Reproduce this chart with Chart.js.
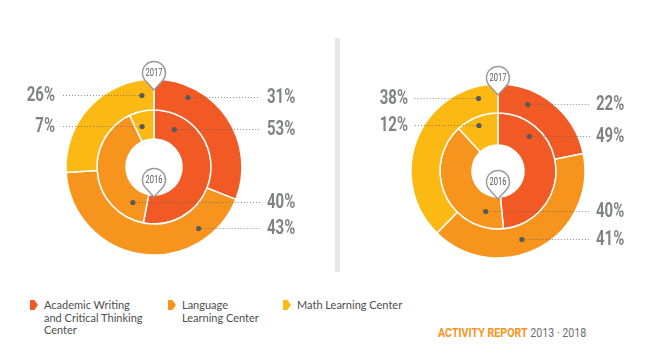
<!DOCTYPE html>
<html>
<head>
<meta charset="utf-8">
<script src="https://cdn.jsdelivr.net/npm/chart.js@4"></script>
<style>
  html, body { margin: 0; padding: 0; background: #fff; }
  #page { position: relative; width: 650px; height: 360px; overflow: hidden; font-family: Lato, "Open Sans", sans-serif; }
  canvas { position: absolute; top: 0; }
  #left_chart { left: 0; }
  #right_chart { left: 340px; }
  .divider { position: absolute; left: 335px; top: 38px; width: 5px; height: 234px; background: #e6e7e8; }
  .legend-item { position: absolute; top: 299px; font-size: 11px; line-height: 12.6px; color: #4d4e50; white-space: nowrap; }
  .swatch { position: absolute; left: -14px; top: 1px; width: 8px; height: 10px; clip-path: polygon(0 0, 55% 0, 100% 50%, 55% 100%, 0 100%); }
  .footer { position: absolute; left: 438px; top: 325px; font-family: Roboto, sans-serif; font-size: 13px; white-space: nowrap; transform: scaleX(0.82); transform-origin: left top; }
  .footer b { color: #f7941d; font-weight: 700; }
  .footer span { color: #6d6e71; }
</style>
</head>
<body>
<div id="page">
  <canvas id="left_chart" width="336" height="280"></canvas>
  <div class="divider"></div>
  <canvas id="right_chart" width="310" height="280"></canvas>
  <div id="legend"></div>
  <div class="footer"><b>ACTIVITY REPORT</b> <span>2013 · 2018</span></div>
</div>
<script>
const categories = [
  ["Academic Writing", "and Critical Thinking", "Center"],
  ["Language", "Learning Center"],
  ["Math Learning Center"],
]
const ringYears = ["2017", "2016"]
const leftOuter = [31, 43, 26]
const leftInner = [53, 40, 7]
const rightOuter = [22, 41, 38]
const rightInner = [49, 40, 12]
const colors = ["#f15a24", "#f7941d", "#fdb913"]

// legend (html text)
const legendX = [44, 182, 297]
const legend = document.getElementById("legend")
categories.forEach((lines, i) => {
  const item = document.createElement("div")
  item.className = "legend-item"
  item.style.left = legendX[i] + "px"
  item.innerHTML = '<div class="swatch" style="background:' + colors[i] + '"></div>' + lines.join("<br>")
  legend.appendChild(item)
})

function pin(ctx, x, tipY, text) {
  const r = 11.5
  const cy = tipY - 17
  const t = Math.acos(r / 17)
  ctx.beginPath()
  ctx.moveTo(x, tipY)
  ctx.arc(x, cy, r, Math.PI / 2 + t, Math.PI / 2 - t, false)
  ctx.closePath()
  ctx.fillStyle = "#ffffff"
  ctx.fill()
  ctx.strokeStyle = "#9b9b9b"
  ctx.lineWidth = 1.5
  ctx.stroke()
  ctx.save()
  ctx.translate(x, cy + 0.5)
  ctx.scale(0.75, 1)
  ctx.font = "10px Roboto"
  ctx.textAlign = "center"
  ctx.textBaseline = "middle"
  ctx.fillStyle = "#58595b"
  ctx.fillText(text, 0, 0)
  ctx.restore()
}

const leaderPlugin = {
  id: "leaders",
  afterDraw(chart, args, opts) {
    const ctx = chart.ctx
    const outerArc = chart.getDatasetMeta(0).data[0]
    const innerArc = chart.getDatasetMeta(1).data[0]
    const cx = outerArc.x
    const cy = outerArc.y
    ctx.save()
    opts.items.forEach((item) => {
      const arc = chart.getDatasetMeta(item.ds).data[item.i]
      const r = arc.innerRadius + (arc.outerRadius - arc.innerRadius) * item.depth
      const a = (item.angle * Math.PI) / 180
      const x = cx + r * Math.sin(a)
      const y = Math.round(cy - r * Math.cos(a))
      const col = opts[item.side]

      ctx.strokeStyle = "rgba(100,100,100,0.75)"
      ctx.lineWidth = 1
      ctx.setLineDash([1, 2])
      ctx.beginPath()
      ctx.moveTo(x, y + 0.5)
      ctx.lineTo(cx + col.line, y + 0.5)
      ctx.stroke()
      ctx.setLineDash([])

      ctx.fillStyle = "#58595b"
      ctx.beginPath()
      ctx.arc(x, y + 0.5, 2.6, 0, Math.PI * 2)
      ctx.fill()

      const value = chart.data.datasets[item.ds].data[item.i]
      ctx.save()
      ctx.translate(cx + col.text, y + 1)
      ctx.scale(0.75, 1)
      ctx.font = "bold 20px Roboto"
      ctx.textAlign = item.side === "left" ? "right" : "left"
      ctx.textBaseline = "middle"
      ctx.fillStyle = "#808285"
      ctx.fillText(value + "%", 0, 0)
      ctx.restore()
    })
    pin(ctx, cx, cy - outerArc.outerRadius + 11, chart.data.datasets[0].label)
    pin(ctx, cx, cy + innerArc.innerRadius + 2, chart.data.datasets[1].label)
    ctx.restore()
  },
}

function donut(id, outer, inner, opts) {
  new Chart(document.getElementById(id), {
    type: "doughnut",
    plugins: [leaderPlugin],
    data: {
      labels: categories.map((c) => c.join(" ")),
      datasets: [
        {
          label: ringYears[0],
          data: outer,
          backgroundColor: colors,
          borderColor: "#ffffff",
          borderWidth: 1.5,
          weight: opts.weights[0],
        },
        {
          label: ringYears[1],
          data: inner,
          backgroundColor: colors,
          borderColor: "#ffffff",
          borderWidth: 1.5,
          weight: opts.weights[1],
        },
      ],
    },
    options: {
      responsive: false,
      animation: false,
      events: [],
      devicePixelRatio: 1,
      radius: opts.radius,
      cutout: opts.cutout,
      layout: { padding: opts.padding },
      plugins: {
        legend: { display: false },
        tooltip: { enabled: false },
        leaders: opts.leaders,
      },
    },
  })
}

donut("left_chart", leftOuter, leftInner, {
  radius: 88,
  cutout: "31.8%",
  weights: [31, 29],
  padding: { left: 0, right: 28, top: 54, bottom: 0 },
  leaders: {
    right: { line: 106, text: 113 },
    left: { line: -91, text: -99 },
    items: [
      { ds: 0, i: 0, angle: 26, depth: 0.66, side: "right" },
      { ds: 1, i: 0, angle: 28, depth: 0.52, side: "right" },
      { ds: 0, i: 2, angle: 350.5, depth: 0.52, side: "left" },
      { ds: 1, i: 2, angle: 344, depth: 0.52, side: "left" },
      { ds: 1, i: 1, angle: 211, depth: 0.45, side: "right" },
      { ds: 0, i: 1, angle: 144, depth: 0.61, side: "right" },
    ],
  },
})

donut("right_chart", rightOuter, rightInner, {
  radius: 87,
  cutout: "29.9%",
  weights: [29, 32],
  padding: { left: 6, right: 0, top: 62, bottom: 0 },
  leaders: {
    right: { line: 92, text: 98 },
    left: { line: -85, text: -90 },
    items: [
      { ds: 0, i: 0, angle: 24, depth: 0.52, side: "right" },
      { ds: 1, i: 0, angle: 41.5, depth: 0.66, side: "right" },
      { ds: 0, i: 2, angle: 345, depth: 0.59, side: "left" },
      { ds: 1, i: 2, angle: 337.6, depth: 0.75, side: "left" },
      { ds: 1, i: 1, angle: 197, depth: 0.5, side: "right" },
      { ds: 0, i: 1, angle: 160.6, depth: 0.48, side: "right" },
    ],
  },
})
</script>
</body>
</html>
